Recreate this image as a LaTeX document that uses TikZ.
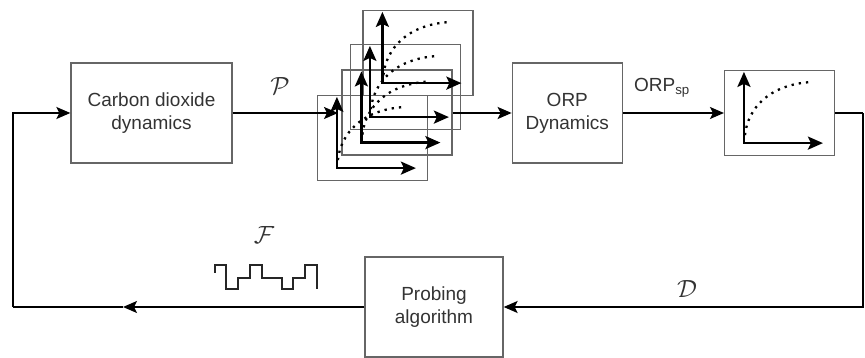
\documentclass[tikz,border=0pt]{standalone}
\usepackage{fontspec}
\setmainfont{Liberation Sans}
\usepackage{amsmath}
\usetikzlibrary{positioning, arrows.meta}

\tikzset{
    block/.style={draw=black!60, line width=1.3pt, align=center, inner sep=0pt,
        text=black!80, font=\fontsize{19}{23}\selectfont},
    plotbox/.style={draw=black!60, line width=1.2pt, minimum width=110pt,
        minimum height=85pt, inner sep=0pt},
    sig/.style={line width=1.8pt, -{Stealth[length=14pt,width=12pt,inset=3pt]}},
    axes/.style={line width=2.4pt, {Stealth[length=15pt,width=13pt,inset=3pt]}-{Stealth[length=15pt,width=13pt,inset=3pt]}},
    trend/.style={line width=2.3pt, dash pattern=on 2.3pt off 5pt},
    lbl/.style={text=black!80, font=\fontsize{24}{26}\selectfont}
}

\begin{document}
\begin{tikzpicture}[x=1pt, y=-1pt, node distance=279pt]
    \useasboundingbox (0,0) rectangle (865,358);

    % blocks
    \node[block, minimum width=161pt, minimum height=100pt] (co2) at (151.5,113) {Carbon dioxide\\dynamics};
    \node[block, minimum width=110pt, minimum height=100pt] (orp) [right=of co2] {ORP\\Dynamics};
    \node[block, minimum width=138pt, minimum height=100pt] (prob) at (434,307) {Probing\\algorithm};

    % stack of response plots
    \foreach \nm/\cx/\cy in {st1/418/53, st2/405.5/87, st3/397/112.5, st4/372.5/138}
        \node[plotbox] (\nm) at (\cx,\cy) {};
    \node[plotbox, right=101pt of orp] (res) {};

    \foreach \nm in {st1,st2,st3,st4,res} {
        \draw[axes] ([shift={(20,2)}]\nm.north west) -- ([shift={(20,-13)}]\nm.south west)
            -- ([shift={(99,-13)}]\nm.south west);
        \draw[trend] ([shift={(21,-21)}]\nm.south west) .. controls ([shift={(24,-48)}]\nm.south west)
            and ([shift={(45,-71)}]\nm.south west) .. ([shift={(86,-74)}]\nm.south west);
    }

    % turning points of the loop
    \coordinate (stin) at (338,113);
    \coordinate (rturn) at (863,113);
    \coordinate (lmid) at (123,307);
    \coordinate (lturn) at (13,307);

    \draw[sig] (co2.east) -- (stin);
    \draw[sig] (st3.east |- orp.west) -- (orp.west);
    \draw[sig] (orp.east) -- (res.west);
    \draw[line width=1.8pt] (res.east) -- (rturn);
    \draw[sig] (rturn) |- (prob.east);
    \draw[line width=1.8pt] (lmid) -- (lturn);
    \draw[sig] (prob.west) -- (lmid);
    \draw[sig] (lturn) |- (co2.west);

    % labels
    \node[lbl] (plab) at (280,86) {$\mathcal{P}$};
    \node[lbl, font=\fontsize{19}{22}\selectfont] (orplab) at (662,88) {ORP\textsubscript{sp}};
    \node[lbl] (dlab) at (687,289) {$\mathcal{D}$};
    \node[lbl] (flab) at (264,235) {$\mathcal{F}$};

    % probing signal
    \draw[line width=1.5pt, black!85] (215,273) -- (215,265) -- (226,265) -- (226,289) -- (238,289)
        -- (238,278) -- (250,278) -- (250,265) -- (262,265) -- (262,278) -- (282,278)
        -- (282,289) -- (293,289) -- (293,278) -- (305,278) -- (305,265) -- (317,265) -- (317,289);
\end{tikzpicture}
\end{document}
